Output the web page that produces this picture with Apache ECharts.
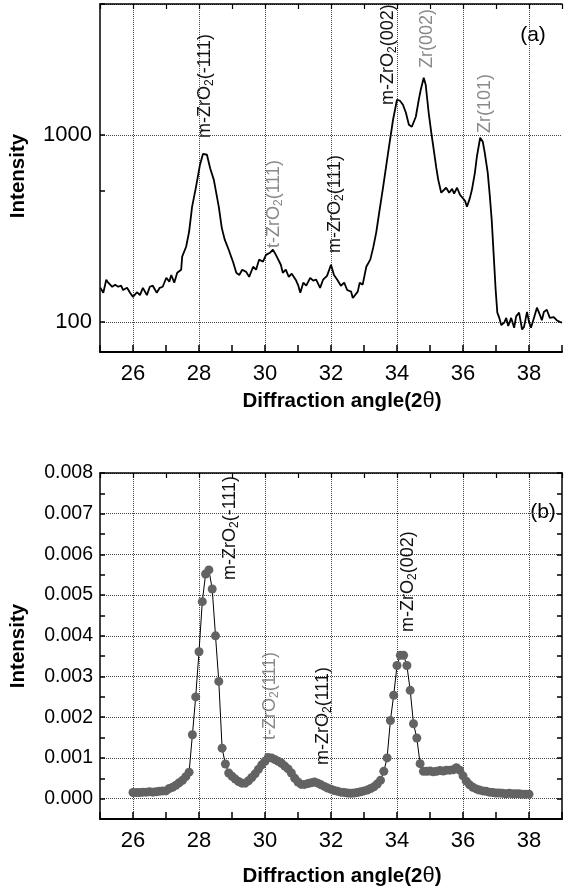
<!DOCTYPE html>
<html>
<head>
<meta charset="utf-8">
<title>ZrO2 diffraction</title>
<script src="https://cdn.jsdelivr.net/npm/echarts@6.0.0/dist/echarts.min.js"></script>
<style>
  html, body { margin: 0; padding: 0; background: #fff; }
  #chart { width: 565px; height: 895px; }
</style>
</head>
<body>
<div id="chart"></div>
<script>
// ------------------------------- DATA -------------------------------------
// (a) measured pattern, intensity on a log axis
var angleA = [
  25.01, 25.10, 25.19, 25.25, 25.37, 25.46, 25.55, 25.64, 25.70, 25.82,
  25.91, 26.00, 26.12, 26.21, 26.30, 26.42, 26.51, 26.60, 26.72, 26.81,
  26.90, 27.01, 27.10, 27.16, 27.25, 27.34, 27.46, 27.49, 27.61, 27.70,
  27.79, 27.91, 28.03, 28.12, 28.15, 28.24, 28.34, 28.45, 28.60, 28.69,
  28.78, 28.90, 29.04, 29.13, 29.22, 29.31, 29.43, 29.52, 29.64, 29.73,
  29.82, 29.94, 30.03, 30.15, 30.24, 30.33, 30.39, 30.48, 30.54, 30.63,
  30.72, 30.81, 30.93, 31.01, 31.07, 31.16, 31.25, 31.37, 31.46, 31.55,
  31.67, 31.76, 31.88, 32.00, 32.09, 32.19, 32.30, 32.40, 32.49, 32.61,
  32.66, 32.72, 32.81, 32.87, 32.96, 33.07, 33.19, 33.28, 33.37, 33.46,
  33.58, 33.73, 33.88, 34.00, 34.09, 34.18, 34.27, 34.36, 34.45, 34.51,
  34.57, 34.66, 34.72, 34.81, 34.87, 34.96, 35.04, 35.10, 35.19, 35.25,
  35.34, 35.40, 35.49, 35.58, 35.67, 35.73, 35.82, 35.91, 35.97, 36.06,
  36.12, 36.21, 36.27, 36.36, 36.42, 36.52, 36.60, 36.66, 36.75, 36.81,
  36.87, 36.93, 36.99, 37.04, 37.10, 37.16, 37.25, 37.31, 37.37, 37.46,
  37.55, 37.61, 37.70, 37.79, 37.85, 37.94, 38.00, 38.06, 38.15, 38.24,
  38.33, 38.39, 38.45, 38.54, 38.63, 38.75, 38.84, 38.93, 39.00
];
var intensityA = [
  152, 143, 168, 162, 154, 158, 154, 156, 148, 152,
  143, 136, 144, 139, 152, 139, 154, 156, 143, 152,
  154, 172, 164, 178, 162, 183, 190, 223, 252, 303,
  412, 527, 692, 790, 801, 782, 660, 574, 412, 318,
  275, 243, 207, 183, 178, 190, 185, 174, 197, 190,
  215, 210, 228, 234, 243, 228, 223, 202, 183, 190,
  174, 181, 168, 156, 143, 162, 156, 172, 166, 168,
  152, 168, 176, 202, 178, 168, 156, 162, 148, 145,
  134, 131, 145, 162, 158, 197, 215, 250, 300, 383,
  527, 801, 1203, 1539, 1520, 1446, 1311, 1131, 1104, 1117,
  1248, 1539, 1740, 2018, 1850, 1311, 1025, 863, 667, 574,
  490, 490, 521, 490, 514, 485, 521, 477, 466, 444,
  412, 460, 508, 626, 763, 964, 918, 801, 626, 477,
  351, 228, 148, 112, 105, 96, 99, 105, 95, 105,
  93, 107, 112, 91, 94, 113, 100, 93, 105, 119,
  109, 102, 113, 116, 105, 106, 102, 100, 99
];

// (b) normalised pattern, linear axis
var angleB = [
  26.0, 26.1, 26.2, 26.3, 26.4, 26.5, 26.6, 26.7, 26.8, 26.9,
  27.0, 27.1, 27.2, 27.3, 27.4, 27.5, 27.6, 27.7, 27.8, 27.9,
  28.0, 28.1, 28.2, 28.3, 28.4, 28.5, 28.6, 28.7, 28.8, 28.9,
  29.0, 29.1, 29.2, 29.3, 29.4, 29.5, 29.6, 29.7, 29.8, 29.9,
  30.0, 30.1, 30.2, 30.3, 30.4, 30.5, 30.6, 30.7, 30.8, 30.9,
  31.0, 31.1, 31.2, 31.3, 31.4, 31.5, 31.6, 31.7, 31.8, 31.9,
  32.0, 32.1, 32.2, 32.3, 32.4, 32.5, 32.6, 32.7, 32.8, 32.9,
  33.0, 33.1, 33.2, 33.3, 33.4, 33.5, 33.6, 33.7, 33.8, 33.9,
  34.0, 34.1, 34.2, 34.3, 34.4, 34.5, 34.6, 34.7, 34.8, 34.9,
  35.0, 35.1, 35.2, 35.3, 35.4, 35.5, 35.6, 35.7, 35.8, 35.9,
  36.0, 36.1, 36.2, 36.3, 36.4, 36.5, 36.6, 36.7, 36.8, 36.9,
  37.0, 37.1, 37.2, 37.3, 37.4, 37.5, 37.6, 37.7, 37.8, 37.9,
  38.0
];
var intensityB = [
  0.00015, 0.00015, 0.00015, 0.00016, 0.00016, 0.00017, 0.00016, 0.00017, 0.00018, 0.00019,
  0.00019, 0.00025, 0.00028, 0.00033, 0.00039, 0.00045, 0.00054, 0.00065, 0.00157, 0.00250,
  0.00361, 0.00484, 0.00552, 0.00562, 0.00515, 0.00400, 0.00288, 0.00124, 0.00085, 0.00063,
  0.00055, 0.00048, 0.00042, 0.00038, 0.00038, 0.00044, 0.00052, 0.00061, 0.00072, 0.00083,
  0.00092, 0.00101, 0.00100, 0.00096, 0.00092, 0.00087, 0.00080, 0.00073, 0.00063, 0.00050,
  0.00041, 0.00035, 0.00035, 0.00037, 0.00039, 0.00041, 0.00038, 0.00034, 0.00030, 0.00026,
  0.00023, 0.00020, 0.00018, 0.00016, 0.00015, 0.00014, 0.00013, 0.00014, 0.00015, 0.00017,
  0.00019, 0.00021, 0.00025, 0.00029, 0.00036, 0.00045, 0.00067, 0.00100, 0.00192, 0.00254,
  0.00327, 0.00352, 0.00352, 0.00327, 0.00266, 0.00184, 0.00149, 0.00086, 0.00067, 0.00067,
  0.00068, 0.00066, 0.00067, 0.00069, 0.00068, 0.00070, 0.00070, 0.00071, 0.00076, 0.00070,
  0.00056, 0.00043, 0.00034, 0.00028, 0.00024, 0.00021, 0.00019, 0.00018, 0.00016, 0.00015,
  0.00014, 0.00014, 0.00013, 0.00012, 0.00013, 0.00012, 0.00012, 0.00012, 0.00011, 0.00011,
  0.00011
];

// tick labels
var xTickLabels = [26, 28, 30, 32, 34, 36, 38];
var yTickLabelsA = [100, 1000];
var yTickLabelsB = ['0.000', '0.001', '0.002', '0.003', '0.004', '0.005', '0.006', '0.007', '0.008'];

// -------------------------- HELPERS ---------------------------------------
var FONT = '"Liberation Sans", Arial, Helvetica, sans-serif';
var GRID_COLOR = '#444';

function pairs(xs, ys) {
  var out = [], i;
  for (i = 0; i < xs.length; i++) { out.push([xs[i], ys[i]]); }
  return out;
}

// bottom x axis: a tick every degree, label + grid line every second one
function xMain(g) {
  return {
    type: 'value', gridIndex: g, position: 'bottom',
    min: 25, max: 39, interval: 1,
    axisLine: { onZero: false, lineStyle: { color: '#000', width: 2 } },
    axisTick: { inside: true, length: 7, lineStyle: { color: '#000', width: 1.5 } },
    axisLabel: {
      margin: 11, fontSize: 22, color: '#000', fontFamily: FONT,
      formatter: function (v) {
        return xTickLabels.indexOf(Math.round(v)) >= 0 ? String(Math.round(v)) : '';
      }
    },
    splitLine: { show: true, lineStyle: { type: 'dotted', width: 1, color: ['rgba(0,0,0,0)', GRID_COLOR] } }
  };
}

// mirrored top frame with inward ticks
function xMirror(g) {
  return {
    type: 'value', gridIndex: g, position: 'top',
    min: 25, max: 39, interval: 1,
    axisLine: { onZero: false, lineStyle: { color: '#000', width: 1.5 } },
    axisTick: { inside: true, length: 5, lineStyle: { color: '#000', width: 1.2 } },
    axisLabel: { show: false },
    splitLine: { show: false }
  };
}

// rotated peak annotation, "{s|2}" is the subscript
function peakLabel(text, x, y, color) {
  return {
    type: 'text', x: x, y: y, rotation: Math.PI / 2, silent: true,
    style: {
      text: text, fill: color, fontSize: 18, fontFamily: FONT, lineHeight: 22,
      align: 'left', verticalAlign: 'middle',
      textAlign: 'left', textVerticalAlign: 'middle',
      rich: {
        s: { fontSize: 12, fill: color, fontFamily: FONT, verticalAlign: 'bottom', lineHeight: 11 }
      }
    }
  };
}

function plainText(text, x, y, size, rot, weight) {
  return {
    type: 'text', x: x, y: y, rotation: rot, silent: true,
    style: {
      text: text, fill: '#000', fontSize: size, fontWeight: weight || 'normal', fontFamily: FONT,
      align: 'center', verticalAlign: 'middle',
      textAlign: 'center', textVerticalAlign: 'middle'
    }
  };
}

function xTitle(x, y) {
  return {
    type: 'text', x: x, y: y, silent: true,
    style: {
      text: '{b|Diffraction angle(2}{t|θ}{b|)}',
      align: 'center', verticalAlign: 'middle',
      textAlign: 'center', textVerticalAlign: 'middle',
      rich: {
        b: { fontSize: 20.5, fontWeight: 'bold', fill: '#000', fontFamily: FONT },
        t: { fontSize: 22, fontWeight: 'normal', fill: '#000', fontFamily: FONT }
      }
    }
  };
}

// ---------------------------- CHART ---------------------------------------
var chart = echarts.init(document.getElementById('chart'), null, { renderer: 'canvas' });

var LOG_MIN = 69, LOG_MAX = 5000;
var BLACK = '#111', GREY = '#8a8a8a';

var option = {
  animation: false,
  backgroundColor: '#fff',
  grid: [
    { left: 100, top: 4, width: 468.5, height: 348 },
    { left: 100, top: 473, width: 468.5, height: 346 }
  ],
  xAxis: [xMain(0), xMirror(0), xMain(1), xMirror(1)],
  yAxis: [
    { // (a) log intensity
      type: 'log', logBase: 10, gridIndex: 0, min: LOG_MIN, max: LOG_MAX,
      axisLine: { onZero: false, lineStyle: { color: '#000', width: 1.5 } },
      axisTick: { inside: true, length: 5, lineStyle: { color: '#000', width: 1.5 } },
      axisLabel: {
        margin: 8, fontSize: 22, color: '#000', fontFamily: FONT,
        formatter: function (v) {
          var r = Math.round(v);
          return yTickLabelsA.indexOf(r) >= 0 ? String(r) : '';
        }
      },
      splitLine: { show: true, lineStyle: { type: 'dotted', width: 1, color: GRID_COLOR } }
    },
    { // (a) extra minor tick at 500
      type: 'value', gridIndex: 0, position: 'left',
      min: Math.log10(LOG_MIN), max: Math.log10(LOG_MAX),
      axisLine: { show: false },
      axisTick: { show: true, inside: true, length: 5, customValues: [Math.log10(500)],
                  lineStyle: { color: '#000', width: 1.5 } },
      axisLabel: { show: false },
      splitLine: { show: false }
    },
    { // (b) intensity
      type: 'value', gridIndex: 1, position: 'left',
      min: -0.0005, max: 0.008, interval: 0.0005,
      axisLine: { onZero: false, lineStyle: { color: '#000', width: 1.5 } },
      axisTick: { inside: true, length: 5, lineStyle: { color: '#000', width: 1.5 } },
      axisLabel: {
        margin: 7, fontSize: 19.5, color: '#000', fontFamily: FONT,
        formatter: function (v) {
          var k = Math.round(v * 10000);
          if (k < 0 || k % 10 !== 0) { return ''; }
          return yTickLabelsB[k / 10] || '';
        }
      },
      splitLine: { show: true, lineStyle: { type: 'dotted', width: 1, color: ['rgba(0,0,0,0)', GRID_COLOR] } }
    },
    { // (b) right frame
      type: 'value', gridIndex: 1, position: 'right',
      min: -0.0005, max: 0.008, interval: 0.0005,
      axisLine: { onZero: false, lineStyle: { color: '#000', width: 1.5 } },
      axisTick: { inside: true, length: 5, lineStyle: { color: '#000', width: 1.5 } },
      axisLabel: { show: false },
      splitLine: { show: false }
    }
  ],
  series: [
    {
      name: 'a', type: 'line', xAxisIndex: 0, yAxisIndex: 0,
      data: pairs(angleA, intensityA),
      showSymbol: false, symbol: 'none',
      lineStyle: { color: '#000', width: 1.8 }
    },
    {
      name: 'b', type: 'line', xAxisIndex: 2, yAxisIndex: 2,
      data: pairs(angleB, intensityB),
      symbol: 'circle', symbolSize: 9, showAllSymbol: true,
      itemStyle: { color: '#636363' },
      lineStyle: { color: '#000', width: 1 }
    }
  ],
  graphic: [
    // axis titles
    plainText('Intensity', 18, 176, 20.5, Math.PI / 2, 'bold'),
    plainText('Intensity', 18, 646, 20.5, Math.PI / 2, 'bold'),
    xTitle(342, 401),
    xTitle(342, 876),
    // panel letters
    plainText('(a)', 533, 35, 21, 0),
    plainText('(b)', 543, 512, 21, 0),
    // (a) peaks
    peakLabel('m-ZrO{s|2}(-111)', 205, 138, BLACK),
    peakLabel('t-ZrO{s|2}(111)', 274, 248, GREY),
    peakLabel('m-ZrO{s|2}(111)', 335, 253, BLACK),
    peakLabel('m-ZrO{s|2}(002)', 388, 105, BLACK),
    peakLabel('Zr(002)', 427, 68, GREY),
    peakLabel('Zr(101)', 485, 133, GREY),
    // (b) peaks
    peakLabel('m-ZrO{s|2}(-111)', 230, 580, BLACK),
    peakLabel('t-ZrO{s|2}(111)', 270, 740, GREY),
    peakLabel('m-ZrO{s|2}(111)', 323, 765, BLACK),
    peakLabel('m-ZrO{s|2}(002)', 408, 632, BLACK)
  ]
};

chart.setOption(option);
</script>
</body>
</html>
